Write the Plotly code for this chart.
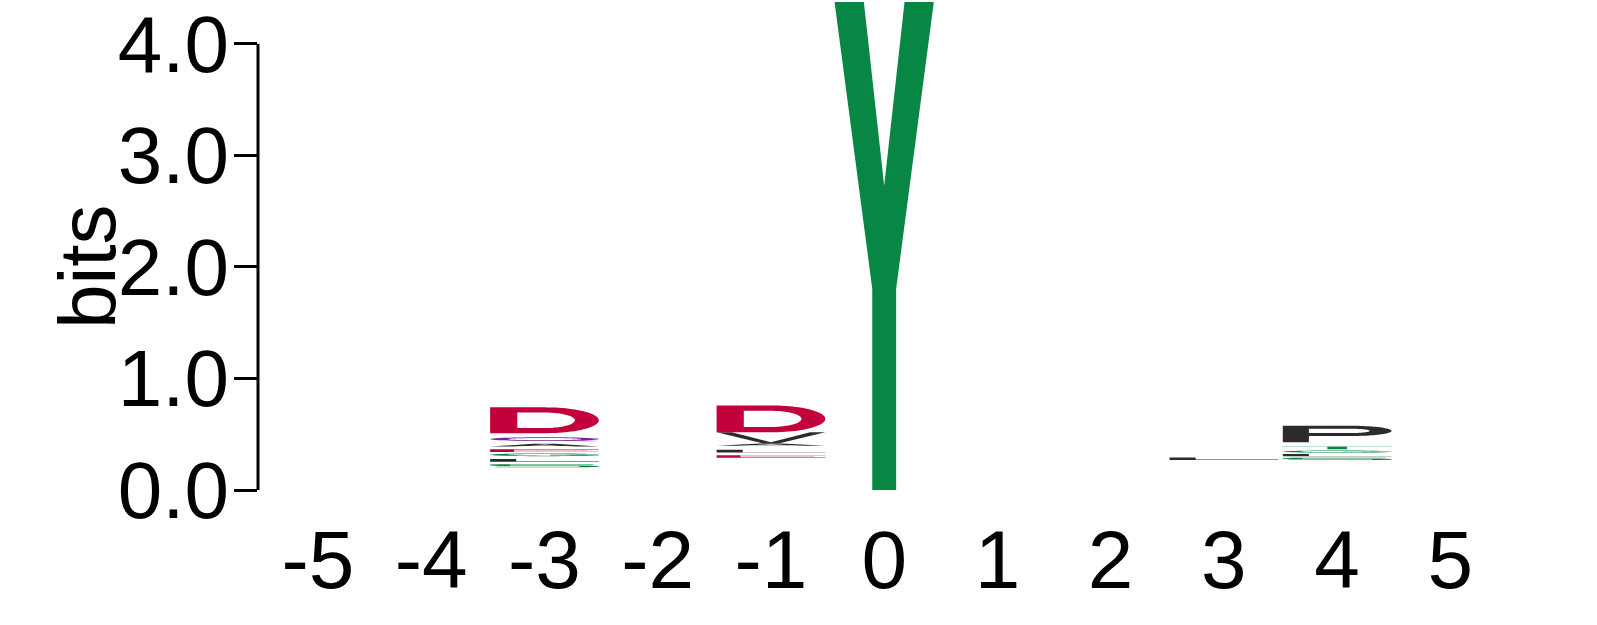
import numpy as np
import plotly.graph_objects as go

# ---------------- data ----------------
positions = [-5, -4, -3, -2, -1, 0, 1, 2, 3, 4, 5]
x_tick_text = ["-5", "-4", "-3", "-2", "-1", "0", "1", "2", "3", "4", "5"]
y_tick_vals = [0, 1, 2, 3, 4]
y_tick_text = ["0.0", "1.0", "2.0", "3.0", "4.0"]

# summed height (bits) of the residues stacked at the bottom that are too small to draw
minor_bits = [0.22, 0.22, 0.205, 0.22, 0.29, 0.0, 0.22, 0.22, 0.27, 0.27, 0.22]

# remaining residues per position, stacked bottom -> top (tiny ones are not drawn)
letters_m3 = ["S", "C", "H", "L", "W", "K", "G", "R", "E", "F", "M", "A", "I", "N", "Q", "T", "V", "P", "D"]
bits_m3 = [0.025, 0.012, 0.012, 0.025, 0.012, 0.012, 0.025, 0.012, 0.025, 0.012, 0.012, 0.025,
           0.012, 0.012, 0.035, 0.012, 0.012, 0.012, 0.232]
letters_m1 = ["E", "K", "R", "L", "H", "F", "M", "A", "V", "D"]
bits_m1 = [0.022, 0.012, 0.012, 0.025, 0.012, 0.012, 0.012, 0.02, 0.10, 0.241]
letters_0 = ["Y"]
bits_0 = [4.40]
letters_3 = ["L"]
bits_3 = [0.022]
letters_4 = ["S", "C", "L", "K", "G", "R", "T", "N", "Q", "E", "P"]
bits_4 = [0.02, 0.012, 0.02, 0.012, 0.02, 0.012, 0.025, 0.012, 0.012, 0.012, 0.149]

stacks = {
    -3: (letters_m3, bits_m3),
    -1: (letters_m1, bits_m1),
    0: (letters_0, bits_0),
    3: (letters_3, bits_3),
    4: (letters_4, bits_4),
}

DRAW_THRESHOLD = 0.015  # letters smaller than this (bits) are not drawn

# chemistry colour scheme
GREEN, RED, BLACK, PURPLE, BLUE = "#088744", "#C4003C", "#2B2B2B", "#7A1E9C", "#1F3FBF"
colors = {}
for aa in "GSTYC":
    colors[aa] = GREEN
for aa in "DE":
    colors[aa] = RED
for aa in "AVLIPWFM":
    colors[aa] = BLACK
for aa in "NQ":
    colors[aa] = PURPLE
for aa in "KRH":
    colors[aa] = BLUE

LETTER_WIDTH = 0.96


# ---------------- glyph outlines (unit box) ----------------
def arc(cx, cy, rx, ry, a0, a1, n=48):
    t = np.radians(np.linspace(a0, a1, n))
    return list(zip(cx + rx * np.cos(t), cy + ry * np.sin(t)))


def glyph(letter):
    """list of paths; each path is a list of subpaths (evenodd fill)"""
    if letter == "D":
        outer = [(0, 0), (0.5, 0)] + arc(0.5, 0.5, 0.5, 0.5, -90, 90) + [(0, 1)]
        hole = [(0.25, 0.2), (0.5, 0.2)] + arc(0.5, 0.5, 0.28, 0.3, -90, 90) + [(0.25, 0.8)]
        return [[outer, hole]]
    if letter == "P":
        outer = [(0, 0), (0.24, 0), (0.24, 0.38), (0.62, 0.38)] + arc(0.62, 0.69, 0.38, 0.31, -90, 90) + [(0, 1)]
        hole = [(0.24, 0.56), (0.62, 0.56)] + arc(0.62, 0.69, 0.18, 0.13, -90, 90) + [(0.24, 0.82)]
        return [[outer, hole]]
    if letter == "Y":
        return [[[(0.39, 0), (0.61, 0), (0.61, 0.41), (0.96, 1), (0.69, 1), (0.5, 0.62),
                  (0.31, 1), (0.04, 1), (0.39, 0.41)]]]
    if letter == "Q":
        outer = arc(0.5, 0.52, 0.5, 0.48, 0, 360)
        inner = arc(0.5, 0.52, 0.34, 0.3, 0, 360)
        tail = [(0.58, 0.2), (0.68, 0.28), (1.0, 0.04), (0.88, 0.0)]
        return [[outer, inner], [tail]]
    if letter == "G":
        ring = arc(0.5, 0.5, 0.5, 0.5, 30, 360) + arc(0.5, 0.5, 0.34, 0.3, 360, 30)
        bar = [(0.55, 0.38), (1, 0.38), (1, 0.5), (0.55, 0.5)]
        return [[ring], [bar]]
    if letter == "S":
        return [[[(0.05, 0), (0.9, 0), (1, 0.1), (1, 0.45), (0.9, 0.57), (0.18, 0.57), (0.18, 0.87),
                  (0.95, 0.87), (0.95, 1), (0.1, 1), (0, 0.9), (0, 0.55), (0.1, 0.43), (0.82, 0.43),
                  (0.82, 0.13), (0.05, 0.13)]]]
    if letter == "E":
        return [[[(0, 0), (1, 0), (1, 0.13), (0.22, 0.13), (0.22, 0.44), (0.9, 0.44), (0.9, 0.56),
                  (0.22, 0.56), (0.22, 0.87), (1, 0.87), (1, 1), (0, 1)]]]
    if letter == "L":
        return [[[(0, 0), (1, 0), (1, 0.14), (0.24, 0.14), (0.24, 1), (0, 1)]]]
    if letter == "T":
        return [[[(0.41, 0), (0.59, 0), (0.59, 0.87), (1, 0.87), (1, 1), (0, 1), (0, 0.87), (0.41, 0.87)]]]
    if letter == "V":
        return [[[(0.43, 0), (0.57, 0), (1, 1), (0.86, 1), (0.5, 0.12), (0.14, 1), (0, 1)]]]
    if letter == "A":
        outer = [(0, 0), (0.2, 0), (0.3, 0.25), (0.7, 0.25), (0.8, 0), (1, 0), (0.6, 1), (0.4, 1)]
        hole = [(0.36, 0.4), (0.64, 0.4), (0.5, 0.8)]
        return [[outer, hole]]
    return [[[(0, 0), (1, 0), (1, 1), (0, 1)]]]


def path_string(subpaths, xc, y0, w, h):
    parts = []
    for sp in subpaths:
        pts = [(xc - w / 2 + px * w, y0 + py * h) for px, py in sp]
        s = "M " + " L ".join(f"{x:.5f},{y:.5f}" for x, y in pts) + " Z"
        parts.append(s)
    return " ".join(parts)


# ---------------- figure ----------------
fig = go.Figure()
# invisible trace so the axes exist
fig.add_trace(go.Scatter(x=positions, y=[0] * len(positions), mode="markers",
                         marker=dict(opacity=0), hoverinfo="skip", showlegend=False))

shapes = []
for pos, base in zip(positions, minor_bits):
    if pos not in stacks:
        continue
    lets, bits = stacks[pos]
    y = base
    for L, b in zip(lets, bits):
        if b >= DRAW_THRESHOLD:
            for sub in glyph(L):
                shapes.append(dict(type="path", xref="x", yref="y",
                                   path=path_string(sub, pos, y, LETTER_WIDTH, b),
                                   fillcolor=colors[L], line=dict(width=0),
                                   fillrule="evenodd", layer="above"))
        y += b

# R-style y axis line from first to last tick
shapes.append(dict(type="line", xref="paper", yref="y", x0=0, x1=0,
                   y0=y_tick_vals[0], y1=y_tick_vals[-1],
                   line=dict(color="black", width=3)))

FONT = "Liberation Sans, Arial, Helvetica, sans-serif"

fig.update_layout(
    width=1597, height=625,
    margin=dict(l=258, r=90, t=0, b=135),
    paper_bgcolor="white", plot_bgcolor="white",
    shapes=shapes,
    showlegend=False,
    xaxis=dict(range=[-5.53, 5.50], tickvals=positions, ticktext=x_tick_text,
               showgrid=False, zeroline=False, showline=False, ticks="",
               ticklabelstandoff=15,
               tickfont=dict(family=FONT, size=82, color="black")),
    yaxis=dict(range=[0, 4.375], tickvals=y_tick_vals, ticktext=y_tick_text,
               showgrid=False, zeroline=False, showline=False,
               ticks="outside", ticklen=23, tickwidth=3, tickcolor="black",
               ticklabeloverflow="allow", ticklabelstandoff=-11,
               tickfont=dict(family=FONT, size=80, color="black")),
    annotations=[dict(text="bits", xref="paper", yref="y", x=-0.136, y=2.0,
                      textangle=-90, showarrow=False, xanchor="center", yanchor="middle",
                      font=dict(family=FONT, size=80, color="black"))],
)

fig.write_html("out.html")
